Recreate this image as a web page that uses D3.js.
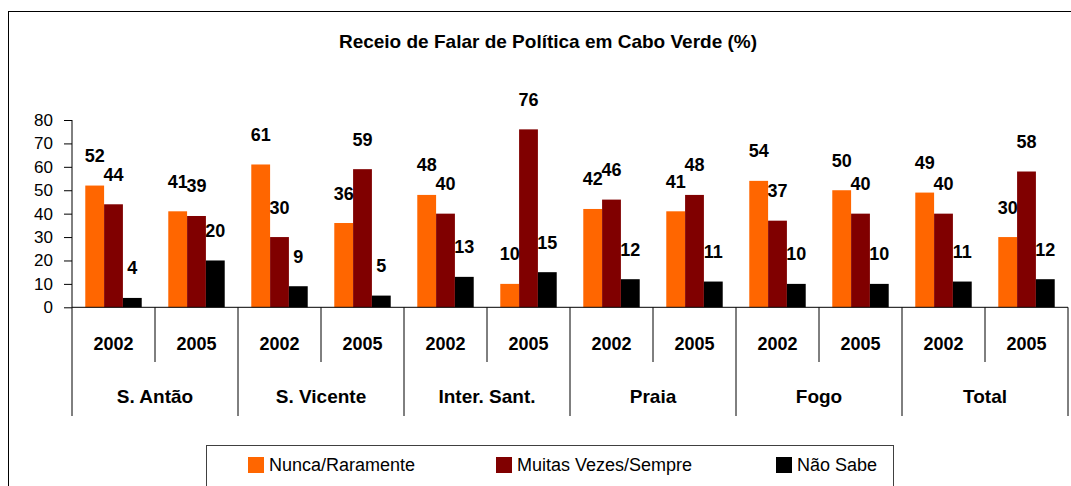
<!DOCTYPE html>
<html>
<head>
<meta charset="utf-8">
<script src="https://cdn.jsdelivr.net/npm/d3@7"></script>
<style>
	body { margin: 0; background: #fff; }
	svg { display: block; font-family: "Liberation Sans", Arial, sans-serif; }
</style>
</head>
<body>
<svg id="chart" width="1071" height="486"></svg>
<script>
// ================================================================================
// Receio de Falar de Politica em Cabo Verde -- grouped bars w/2-level category axis

var islands = ["S. Antão", "S. Vicente", "Inter. Sant.", "Praia", "Fogo", "Total"];
var years = ["2002", "2005"];
var seriesNames = ["Nunca/Raramente", "Muitas Vezes/Sempre", "Não Sabe"];
var seriesColors = ["#FF6600", "#800000", "#000000"];

	// One entry per island+year, in the order of islands x years
var nunca =   [52, 41, 61, 36, 48, 10, 42, 41, 54, 50, 49, 30];
var muitas =  [44, 39, 30, 59, 40, 76, 46, 48, 37, 40, 40, 58];
var naoSabe = [ 4, 20,  9,  5, 13, 15, 12, 11, 10, 10, 11, 12];

var yTicks = [0, 10, 20, 30, 40, 50, 60, 70, 80];

var svg = d3.select("#chart");

	// Plot frame (NOTE: can't use "top" -- clashes w/window.top)
var pLeft = 72, pRight = 1068, pTop = 120, pBase = 307.3;

	// Build flat list of sub-categories
var cats = [];
islands.forEach(function(isl, iI) {
	years.forEach(function(yr) {
		cats.push({ id: isl + "|" + yr, isl: isl, iI: iI, yr: yr });
	});
});

var series = [nunca, muitas, naoSabe];

var x0 = d3.scaleBand().domain(cats.map(function(c) { return c.id; })).range([pLeft, pRight]);
var bw = x0.bandwidth();
var groupW = bw * 0.68;
var x1 = d3.scaleBand().domain(d3.range(series.length)).range([0, groupW]);
var y = d3.scaleLinear().domain([0, 80]).range([pBase, pTop]);

	// Outer border (runs off the right and bottom of picture)
svg.append("rect")
	.attr("x", 8.5).attr("y", 11.5)
	.attr("width", 1100).attr("height", 500)
	.attr("fill", "none").attr("stroke", "#000").attr("stroke-width", 1);

	// Title
svg.append("text")
	.attr("x", 548).attr("y", 48)
	.attr("text-anchor", "middle")
	.attr("font-size", 19).attr("font-weight", "bold")
	.text("Receio de Falar de Política em Cabo Verde (%)");

	// Y axis
var yAxis = d3.axisLeft(y).tickValues(yTicks).tickSize(8).tickPadding(11);
var yG = svg.append("g").attr("transform", "translate(" + pLeft + ",0)").call(yAxis);
yG.select(".domain").remove();
yG.selectAll("line").attr("stroke", "#000");
yG.selectAll("text").attr("font-size", 17).attr("font-family", "Liberation Sans, Arial, sans-serif").attr("fill", "#000");
svg.append("line")
	.attr("x1", pLeft).attr("x2", pLeft).attr("y1", pTop).attr("y2", pBase)
	.attr("stroke", "#000");

	// Bars
var barData = [];
cats.forEach(function(c, cI) {
	series.forEach(function(s, sI) {
		barData.push({ c: c.id, s: sI, v: s[cI] });
	});
});

function barX(d)
{
	return x0(d.c) + (bw - groupW) / 2 + x1(d.s);
} // barX()

svg.append("g").selectAll("rect")
	.data(barData)
	.enter()
	.append("rect")
	.attr("x", barX)
	.attr("y", function(d) { return y(d.v); })
	.attr("width", x1.bandwidth())
	.attr("height", function(d) { return pBase - y(d.v); })
	.attr("fill", function(d) { return seriesColors[d.s]; });

	// Value labels
svg.append("g").selectAll("text")
	.data(barData)
	.enter()
	.append("text")
	.attr("x", function(d) { return barX(d) + x1.bandwidth() / 2; })
	.attr("y", function(d) { return y(d.v) - 23.5; })
	.attr("text-anchor", "middle")
	.attr("font-size", 18).attr("font-weight", "bold")
	.text(function(d) { return d.v; });

	// X axis line
svg.append("line")
	.attr("x1", pLeft).attr("x2", pRight).attr("y1", pBase).attr("y2", pBase)
	.attr("stroke", "#000");

	// Dividers: short between years, long between islands
var bounds = d3.range(cats.length + 1);
svg.append("g").selectAll("line")
	.data(bounds)
	.enter()
	.append("line")
	.attr("x1", function(i) { return pLeft + i * bw; })
	.attr("x2", function(i) { return pLeft + i * bw; })
	.attr("y1", pBase)
	.attr("y2", function(i) { return (i % years.length === 0) ? 416 : 362; })
	.attr("stroke", "#000");

	// Year labels
svg.append("g").selectAll("text")
	.data(cats)
	.enter()
	.append("text")
	.attr("x", function(c) { return x0(c.id) + bw / 2; })
	.attr("y", 350)
	.attr("text-anchor", "middle")
	.attr("font-size", 18).attr("font-weight", "bold")
	.text(function(c) { return c.yr; });

	// Island labels
svg.append("g").selectAll("text")
	.data(islands)
	.enter()
	.append("text")
	.attr("x", function(d, i) { return pLeft + (i * years.length + years.length / 2) * bw; })
	.attr("y", 403)
	.attr("text-anchor", "middle")
	.attr("font-size", 19).attr("font-weight", "bold")
	.text(function(d) { return d; });

	// Legend
var lgnd = svg.append("g");
lgnd.append("rect")
	.attr("x", 206.5).attr("y", 445.5)
	.attr("width", 687).attr("height", 60)
	.attr("fill", "#fff").attr("stroke", "#404040").attr("stroke-width", 1);

var lgndX = [248, 496, 776];
seriesNames.forEach(function(name, sI) {
	lgnd.append("rect")
		.attr("x", lgndX[sI]).attr("y", 457)
		.attr("width", 16).attr("height", 16)
		.attr("fill", seriesColors[sI]);
	lgnd.append("text")
		.attr("x", lgndX[sI] + 21).attr("y", 471)
		.attr("font-size", 18)
		.text(name);
});
</script>
</body>
</html>
